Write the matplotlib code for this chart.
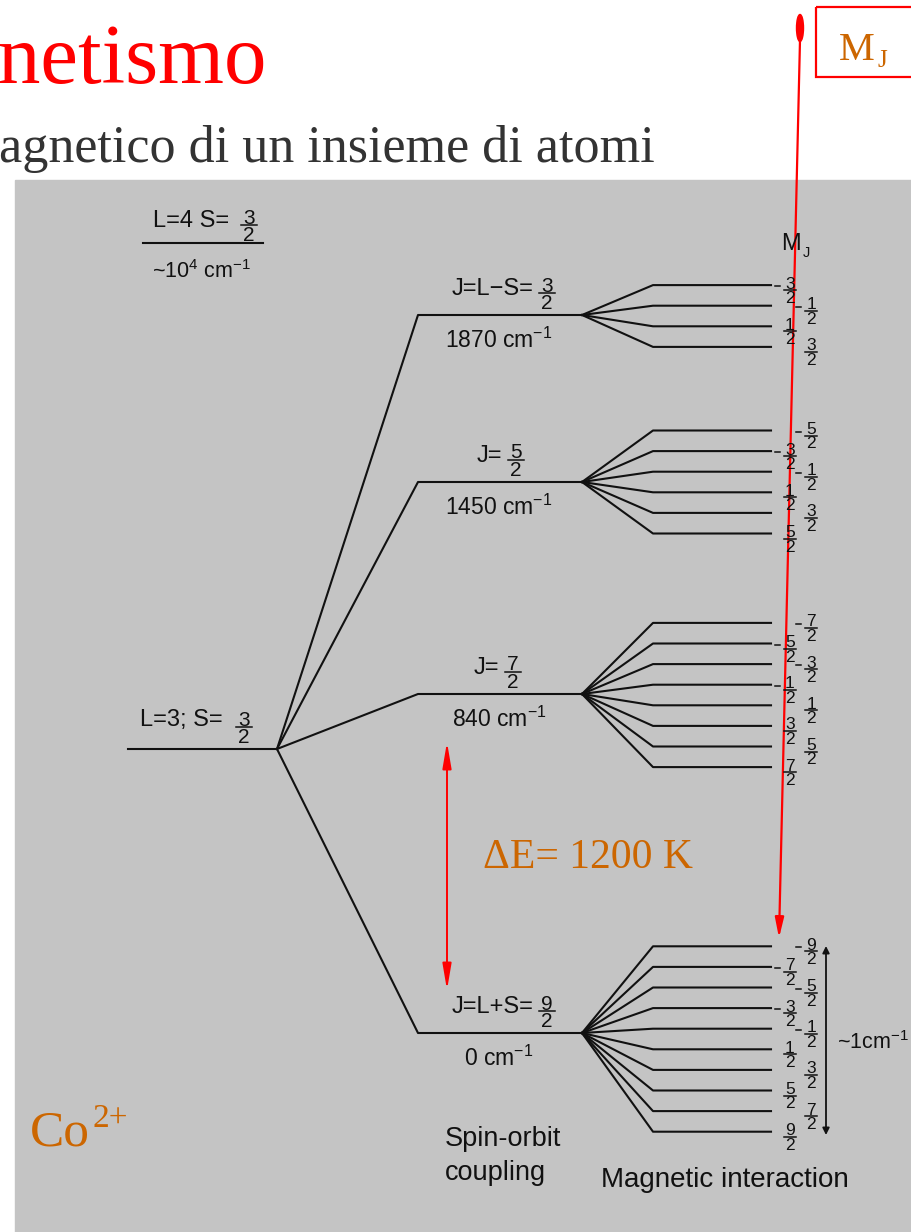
import numpy as np
import matplotlib
matplotlib.use("Agg")
import matplotlib.pyplot as plt
from matplotlib.patches import Rectangle, Ellipse, FancyArrowPatch

plt.rcParams["font.family"] = ["Liberation Sans", "DejaVu Sans"]
plt.rcParams["mathtext.default"] = "regular"

# ---- diagram content -------------------------------------------------------
ground_term = "L=3; S="
ground_term_frac = 3
excited_term = "L=4 S="
excited_term_frac = 3
excited_energy = "~10$^4$ cm$^{-1}$"

j_numerators = [3, 5, 7, 9]                # J = n/2
j_prefixes = ["J=L\u2212S=", "J=", "J=", "J=L+S="]
j_energies = [1870, 1450, 840, 0]          # cm^-1
delta_e_kelvin = 1200
zeeman_width = "~1cm$^{-1}$"
ion_symbol = "Co"
ion_charge = "2+"

# ---- layout (pixel space) ---------------------------------------------------
W, H = 911, 1232
level_y = [315, 482, 694, 1033]
fan_offset = [1, 0, 1, 6]
label_frac_x = [547, 516, 513, 547]
first_col_left = [True, False, False, False]
ground_y, ground_x0, ground_x1 = 749, 128, 277
j_x0, fan_x, knee_x, end_x = 418, 582, 653, 771
sub_step = 20.6
col_left_x, col_right_x = 790, 811

BLACK = "#111111"
RED = "#ff0000"
ORANGE = "#cc6600"
LW = 1.5

fig = plt.figure(figsize=(W / 100, H / 100), dpi=100)
ax = fig.add_axes([0, 0, 1, 1])
ax.set_xlim(0, W)
ax.set_ylim(H, 0)
ax.axis("off")

ax.add_patch(Rectangle((15, 180), W, H, color="#c4c4c4", zorder=0))


def frac(x, ybar, num, size=11.0, den="2", w=5.5):
    ax.text(x, ybar - 1.5, str(num), ha="center", va="baseline",
            fontsize=size, color=BLACK)
    ax.text(x, ybar + 1.0, den, ha="center", va="top",
            fontsize=size, color=BLACK)
    ax.plot([x - w, x + w], [ybar, ybar], color=BLACK, lw=1.1)


# page headings
ax.text(-2, 83, "netismo", fontsize=61, color=RED, family="Liberation Serif",
        ha="left", va="baseline")
ax.text(-1, 162, "agnetico di un insieme di atomi", fontsize=37.5,
        color="#333333", family="Liberation Serif", ha="left", va="baseline")

# M_J box
ax.add_patch(Rectangle((816, 7), 120, 70, fill=False, edgecolor=RED, lw=1.6))
ax.text(839, 60, "M", fontsize=29, color=ORANGE,
        family="Liberation Serif", ha="left", va="baseline")
ax.text(877, 67, "J", fontsize=18, color=ORANGE,
        family="Liberation Serif", ha="left", va="baseline")

# excited term
ax.plot([143, 263], [243, 243], color=BLACK, lw=LW)
ax.text(229, 221, excited_term, ha="right", va="center", fontsize=17, color=BLACK)
frac(249, 225, excited_term_frac, size=15, w=8)
ax.text(201, 272, excited_energy, ha="center", va="center", fontsize=15.5, color=BLACK)

# ground term
ax.plot([ground_x0, ground_x1], [ground_y, ground_y], color=BLACK, lw=LW)
ax.text(223, 720, ground_term, ha="right", va="center", fontsize=17, color=BLACK)
frac(244, 727, ground_term_frac, size=15, w=8)

# spin-orbit levels and their Zeeman fans
for n, pre, e, y, off, fx, left_first in zip(
        j_numerators, j_prefixes, j_energies, level_y, fan_offset,
        label_frac_x, first_col_left):
    ax.plot([ground_x1, j_x0, fan_x], [ground_y, y, y], color=BLACK, lw=LW)
    ax.text(fx - 14, y - 26, pre, ha="right", va="center", fontsize=17, color=BLACK)
    frac(fx, y - 22, n, size=15, w=8)
    ax.text(499, y + 25, f"{e} cm$^{{-1}}$", ha="center", va="center",
            fontsize=16.5, color=BLACK)

    m_values = np.arange(-n, n + 1, 2)
    centre = y + off
    for k, m in enumerate(m_values):
        yk = centre + (k - (len(m_values) - 1) / 2) * sub_step
        ax.plot([fan_x, knee_x, end_x], [y, yk, yk], color=BLACK, lw=1.5)
        left = (k % 2 == 0) == left_first
        cx = col_left_x if left else col_right_x
        if m < 0:
            ax.plot([cx - 15, cx - 10], [yk + 1, yk + 1], color=BLACK, lw=1.1)
        frac(cx, yk + 5, abs(m), size=12.5, w=6)

ax.text(781, 250, "M", ha="left", va="baseline", fontsize=17, color=BLACK)
ax.text(803, 257, "J", ha="left", va="baseline", fontsize=10.5, color=BLACK)

# Zeeman width arrow
ax.add_patch(FancyArrowPatch((826, 946), (826, 1135), arrowstyle="<|-|>",
                             mutation_scale=10, color=BLACK, lw=1.3,
                             shrinkA=0, shrinkB=0))
ax.text(837, 1043, zeeman_width, ha="left", va="center", fontsize=15.5, color=BLACK)

ax.text(445, 1139, "Spin-orbit", ha="left", va="center", fontsize=19.5, color=BLACK)
ax.text(445, 1173, "coupling", ha="left", va="center", fontsize=19.5, color=BLACK)
ax.text(601, 1180, "Magnetic interaction", ha="left", va="center",
        fontsize=20, color=BLACK)

# red annotations
ax.add_patch(FancyArrowPatch((447, 990), (447, 742),
                             arrowstyle="<|-|>,head_length=1.3,head_width=0.22",
                             mutation_scale=12, color=RED, lw=1.4,
                             shrinkA=0, shrinkB=0))
ax.text(483, 858, f"\u0394E= {delta_e_kelvin} K", ha="left", va="center",
        fontsize=30, color=ORANGE, family="Liberation Serif")
ax.text(30, 1145, ion_symbol, ha="left", va="baseline", fontsize=37,
        color=ORANGE, family="Liberation Serif")
ax.text(92, 1127, ion_charge, ha="left", va="baseline", fontsize=24,
        color=ORANGE, family="Liberation Serif")

ax.add_patch(Ellipse((800, 28), 7, 27, color=RED))
ax.add_patch(FancyArrowPatch((800, 40), (779, 938),
                             arrowstyle="-|>,head_length=1.0,head_width=0.22",
                             mutation_scale=12, color=RED, lw=1.6,
                             shrinkA=0, shrinkB=0))

fig.savefig("out.png", dpi=100)
